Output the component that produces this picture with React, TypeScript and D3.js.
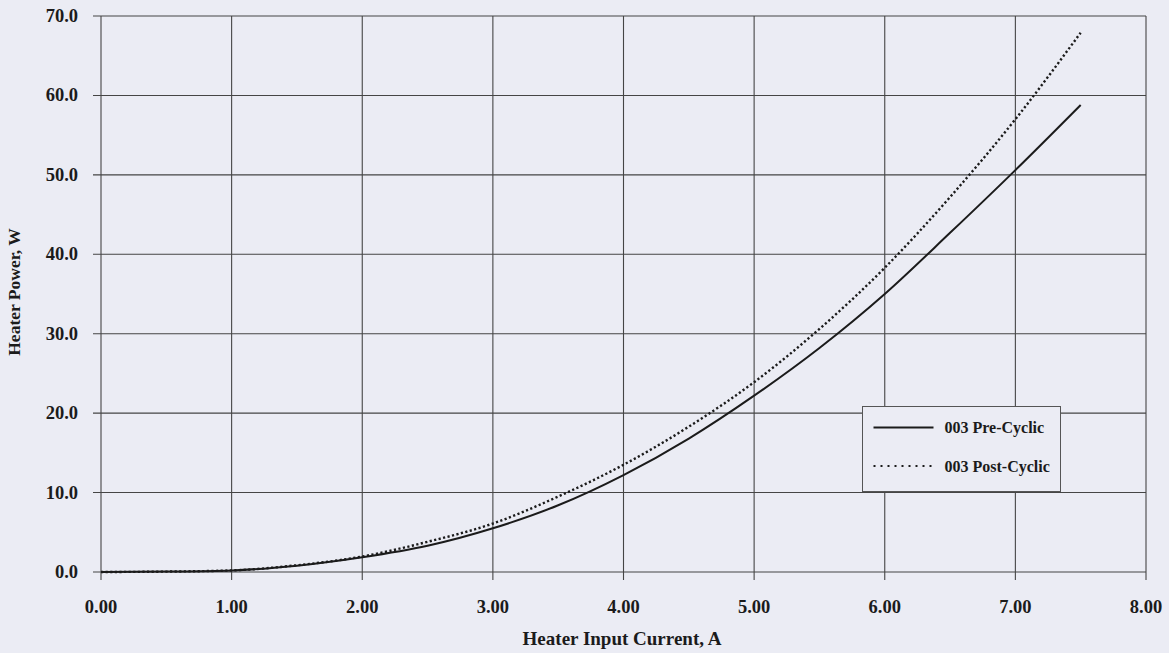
import React, { useEffect, useRef } from "react";
import * as d3 from "d3";

// values
const current = [0, 0.5, 1.0, 1.5, 2.0, 2.5, 3.0, 3.5, 4.0, 4.5, 5.0, 5.5, 6.0, 6.5, 7.0, 7.5];
const preCyclic = [0, 0.05, 0.2, 0.8, 1.85, 3.3, 5.5, 8.4, 12.2, 16.8, 22.2, 28.2, 35.0, 42.7, 50.6, 58.8];
const postCyclic = [0, 0.05, 0.2, 0.85, 1.95, 3.8, 6.1, 9.5, 13.5, 18.3, 23.9, 30.6, 38.3, 47.2, 57.0, 67.9];

const xTicks = [0, 1, 2, 3, 4, 5, 6, 7, 8];
const yTicks = [0, 10, 20, 30, 40, 50, 60, 70];
const seriesNames = ["003 Pre-Cyclic", "003 Post-Cyclic"];

const BG = "#ebecf4";
const INK = "#1b1b1b";
const GRID = "#454545";
const FONT = "'Liberation Serif', 'Times New Roman', serif";

export default function App() {
  const ref = useRef<SVGSVGElement>(null);

  useEffect(() => {
    const svg = d3.select(ref.current);
    svg.selectAll("*").remove();

    const x = d3.scaleLinear().domain([0, 8]).range([101, 1146]);
    const y = d3.scaleLinear().domain([0, 70]).range([572, 16]);

    svg.append("rect").attr("width", 1169).attr("height", 653).attr("fill", BG);

    const g = svg.append("g");

    // grid + frame
    g.selectAll(".vgrid")
      .data(xTicks)
      .join("line")
      .attr("x1", (d) => x(d))
      .attr("x2", (d) => x(d))
      .attr("y1", y(70))
      .attr("y2", y(0) + 8)
      .attr("stroke", GRID)
      .attr("stroke-width", 1.1);

    g.selectAll(".hgrid")
      .data(yTicks)
      .join("line")
      .attr("x1", x(0) - 8)
      .attr("x2", x(8))
      .attr("y1", (d) => y(d))
      .attr("y2", (d) => y(d))
      .attr("stroke", GRID)
      .attr("stroke-width", 1.1);

    // tick labels
    g.selectAll(".xlab")
      .data(xTicks)
      .join("text")
      .attr("x", (d) => x(d))
      .attr("y", 613)
      .attr("text-anchor", "middle")
      .attr("font-size", 18.5)
      .text((d) => d.toFixed(2));

    g.selectAll(".ylab")
      .data(yTicks)
      .join("text")
      .attr("x", 78)
      .attr("y", (d) => y(d) + 6)
      .attr("text-anchor", "end")
      .attr("font-size", 18.5)
      .text((d) => d.toFixed(1));

    // axis titles
    g.append("text")
      .attr("x", 622)
      .attr("y", 645)
      .attr("text-anchor", "middle")
      .attr("font-size", 19)
      .text("Heater Input Current, A");

    g.append("text")
      .attr("transform", "translate(20, 292) rotate(-90)")
      .attr("text-anchor", "middle")
      .attr("font-size", 17.5)
      .text("Heater Power, W");

    g.selectAll("text").attr("font-family", FONT).attr("font-weight", "bold").attr("fill", INK);

    // curves
    const line = d3
      .line<number>()
      .x((_, i) => x(current[i]))
      .y((d) => y(d))
      .curve(d3.curveMonotoneX);

    g.append("path")
      .datum(preCyclic)
      .attr("d", line)
      .attr("fill", "none")
      .attr("stroke", INK)
      .attr("stroke-width", 2);

    g.append("path")
      .datum(postCyclic)
      .attr("d", line)
      .attr("fill", "none")
      .attr("stroke", INK)
      .attr("stroke-width", 2.4)
      .attr("stroke-dasharray", "2.2 2.4");

    // legend
    const lg = g.append("g").attr("transform", "translate(862.5, 406.5)");
    lg.append("rect")
      .attr("width", 198)
      .attr("height", 85)
      .attr("fill", BG)
      .attr("stroke", "#555")
      .attr("stroke-width", 1);

    lg.selectAll(".lline")
      .data(seriesNames)
      .join("line")
      .attr("x1", 11)
      .attr("x2", 71)
      .attr("y1", (_, i) => 21 + i * 38.5)
      .attr("y2", (_, i) => 21 + i * 38.5)
      .attr("stroke", INK)
      .attr("stroke-width", (_, i) => (i === 0 ? 2 : 2))
      .attr("stroke-dasharray", (_, i) => (i === 0 ? null : "2 5"));

    lg.selectAll(".ltext")
      .data(seriesNames)
      .join("text")
      .attr("x", 82)
      .attr("y", (_, i) => 26.5 + i * 38.5)
      .attr("font-size", 16)
      .attr("font-family", FONT)
      .attr("font-weight", "bold")
      .attr("fill", INK)
      .text((d) => d);
  }, []);

  return (
    <div style={{ position: "fixed", left: 0, top: 0 }}>
      <svg ref={ref} width={1169} height={653} style={{ display: "block" }} />
    </div>
  );
}
